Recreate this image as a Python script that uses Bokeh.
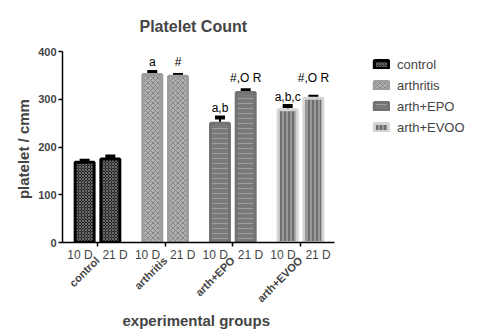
import math
from bokeh.plotting import figure
from bokeh.models import (ColumnDataSource, Range1d, FixedTicker, LinearAxis, Whisker,
                          TeeHead, Legend, LegendItem, Title)
from bokeh.core.properties import value
from bokeh.embed import file_html
from bokeh.resources import INLINE

# ---- data ----
groups = ["control", "arthritis", "arth+EPO", "arth+EVOO"]
times = ["10 D", "21 D"]
mean_10d = [168, 352, 250, 278]
mean_21d = [175, 348, 314, 302]
sem_10d = [3, 5, 12, 8]
sem_21d = [5, 3, 5, 3]
sig_10d = ["", "a", "a,b", "a,b,c"]
sig_21d = ["", "#", "#,O R", "#,O R"]
sig_y_10d = [0, 377, 281, 304]
sig_y_21d = [0, 377, 344, 344]
y_ticks = [0, 100, 200, 300, 400]

FONT = "Liberation Sans"
BAR_OFF = 0.19
BAR_W = 0.28
LABEL_OFF = 0.26
X_START, AXIS_END, X_END = -0.517, 3.5, 5.674

styles = [
    dict(line_color="#000000", fill_color="#262626", hatch_color="#6a6a6a", hatch_pattern="x", hatch_scale=3),
    dict(line_color="#9c9c9c", fill_color="#b0b0b0", hatch_color="#858585", hatch_pattern="x", hatch_scale=5),
    dict(line_color="#727272", fill_color="#7a7a7a", hatch_color="#9c9c9c", hatch_pattern="-", hatch_scale=5),
    dict(line_color="#d4d4d4", fill_color="#6e6e6e", hatch_color="#c4c4c4", hatch_pattern="|", hatch_scale=4),
]

p = figure(width=481, height=335, x_range=Range1d(X_START, X_END), y_range=Range1d(0, 400),
           output_backend="svg", toolbar_location=None, x_axis_type=None, y_axis_type=None,
           min_border_left=62, min_border_right=0, min_border_top=51, min_border_bottom=93)
p.outline_line_color = None
p.title.text = "Platelet Count"
p.title.align = "left"
p.title.offset = 77
p.title.text_font = FONT
p.title.text_font_size = "16px"
p.title.text_font_style = "bold"
p.title.standoff = 30
p.title.vertical_align = "top"

renderers = []
for i, g in enumerate(groups):
    src = ColumnDataSource(dict(x=[i - BAR_OFF, i + BAR_OFF], top=[mean_10d[i], mean_21d[i]],
                                lower=[mean_10d[i], mean_21d[i]],
                                upper=[mean_10d[i] + sem_10d[i], mean_21d[i] + sem_21d[i]]))
    r = p.vbar(x="x", top="top", width=BAR_W, bottom=0, source=src, line_width=3,
               hatch_weight=1, **styles[i])
    renderers.append(r)
    w = Whisker(base="x", lower="lower", upper="upper", source=src, dimension="height",
                line_color="black", line_width=2,
                upper_head=TeeHead(size=10, line_width=4, line_color="black"), lower_head=None)
    p.add_layout(w)

# significance letters
tx, ty, tt = [], [], []
for i in range(len(groups)):
    if sig_10d[i]:
        tx.append(i - BAR_OFF); ty.append(sig_y_10d[i]); tt.append(sig_10d[i])
    if sig_21d[i]:
        tx.append(i + BAR_OFF); ty.append(sig_y_21d[i]); tt.append(sig_21d[i])
p.text(x=tx, y=ty, text=tt, text_align="center", text_baseline="alphabetic",
       text_font=value(FONT), text_font_size="12px", text_color="black")

# y axis
yax = LinearAxis(ticker=FixedTicker(ticks=y_ticks), axis_label="platelet  / cmm")
yax.axis_label_text_font = FONT
yax.axis_label_text_font_size = "15px"
yax.axis_label_text_font_style = "bold"
yax.axis_label_standoff = 3
yax.major_label_text_font = FONT
yax.major_label_text_font_size = "11px"
yax.major_label_text_font_style = "bold"
yax.major_label_standoff = 2
yax.major_tick_out = 4
yax.major_tick_in = 0
yax.minor_tick_line_color = None
yax.axis_line_width = 1.5
yax.major_tick_line_width = 1.5
p.add_layout(yax, "left")

# x axis 1: time labels + ticks at group centres
label_pos = []
overrides = {}
for i in range(len(groups)):
    for j, t in enumerate(times):
        pos = i + (-LABEL_OFF if j == 0 else LABEL_OFF)
        label_pos.append(pos)
        overrides[pos] = t
ax1 = LinearAxis(ticker=FixedTicker(ticks=label_pos, minor_ticks=list(range(len(groups)))),
                 major_label_overrides=overrides, bounds=(X_START, AXIS_END))
ax1.major_tick_line_color = None
ax1.major_tick_out = 0
ax1.major_tick_in = 0
ax1.minor_tick_out = 4
ax1.minor_tick_in = 0
ax1.minor_tick_line_width = 1.5
ax1.axis_line_width = 1.5
ax1.major_label_text_font = FONT
ax1.major_label_text_font_size = "12px"
ax1.major_label_standoff = 1
p.add_layout(ax1, "below")

# x axis 2: rotated group names
ax2 = LinearAxis(ticker=FixedTicker(ticks=list(range(len(groups)))),
                 major_label_overrides={i: g for i, g in enumerate(groups)},
                 bounds=(X_START, AXIS_END))
ax2.axis_line_color = None
ax2.major_tick_line_color = None
ax2.minor_tick_line_color = None
ax2.major_tick_out = 0
ax2.major_tick_in = 0
ax2.major_label_orientation = math.pi / 4
ax2.major_label_text_font = FONT
ax2.major_label_text_font_size = "11px"
ax2.major_label_text_font_style = "bold"
ax2.major_label_standoff = -6
p.add_layout(ax2, "below")

xlabel = Title(text="experimental groups", align="left", offset=60, text_font=FONT,
               text_font_size="15px", text_font_style="bold", standoff=0, vertical_align="top")
p.add_layout(xlabel, "below")

legend = Legend(items=[LegendItem(label=g, renderers=[r]) for g, r in zip(groups, renderers)],
                location=(310, 106), glyph_width=18, glyph_height=10, label_height=18,
                spacing=3, padding=0, margin=0, label_standoff=7,
                label_text_font=FONT, label_text_font_size="13px",
                border_line_color=None, background_fill_alpha=0)
p.add_layout(legend, "center")

open("out.html", "w").write(file_html(p, INLINE))
